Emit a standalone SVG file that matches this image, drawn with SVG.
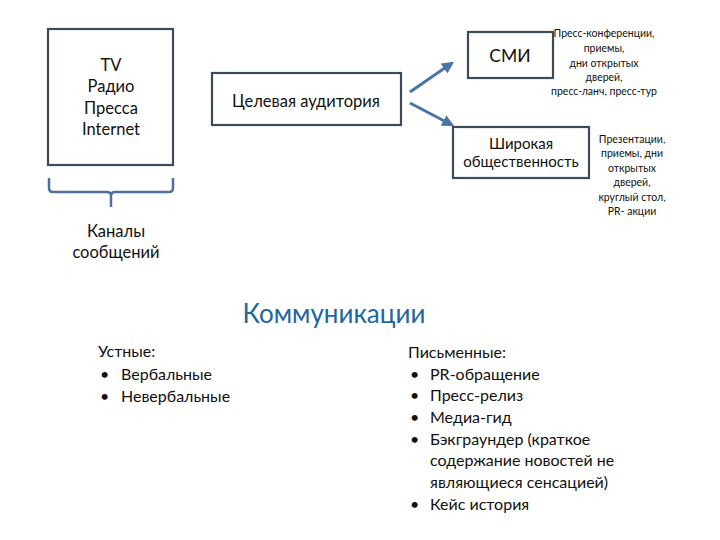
<svg xmlns="http://www.w3.org/2000/svg" width="720" height="540" viewBox="0 0 720 540">
<defs>
<style>
text{font-family:Lato,"Liberation Sans",sans-serif;fill:#111}
.box{fill:#fff;stroke:#3c4a5c;stroke-width:2.2}
.c{text-anchor:middle}
.m{font-size:16.5px}
.s{font-size:10.5px}
.l{font-size:16px}
.conn{stroke:#4a74a8;stroke-width:3;fill:none}
</style>
<marker id="ah" viewBox="0 0 10 10" refX="8" refY="5" markerWidth="4" markerHeight="4" orient="auto" markerUnits="strokeWidth">
<path d="M0,0 L10,5 L0,10 z" fill="#4a74a8"/>
</marker>
</defs>
<rect width="720" height="540" fill="#fff"/>
<g id="channels">
<rect class="box" x="48" y="29" width="125" height="136"/>
<text class="c m" x="111" y="71">TV</text>
<text class="c m" x="111" y="92">Радио</text>
<text class="c m" x="111" y="114">Пресса</text>
<text class="c m" x="111" y="135">Internet</text>
</g>
<g id="brace">
<path d="M49,178 L49,188 Q49,192 53,192 L107,192 Q111,192 111,196 L111,207 M111,196 Q111,192 115,192 L169,192 Q173,192 173,188 L173,178" fill="none" stroke="#4f6f9f" stroke-width="2.5"/>
<text class="c m" x="116" y="237">Каналы</text>
<text class="c m" x="116" y="258">сообщений</text>
</g>
<g id="audience">
<rect class="box" x="212" y="73" width="189" height="52"/>
<text class="c m" x="306" y="107">Целевая аудитория</text>
</g>
<g id="smi">
<rect class="box" x="468" y="32" width="85" height="46"/>
<text class="c" x="510" y="62" font-size="17.5">СМИ</text>
</g>
<g id="smi-note">
<text class="c s" x="604" y="37">Пресс-конференции,</text>
<text class="c s" x="604" y="52">приемы,</text>
<text class="c s" x="604" y="67">дни открытых</text>
<text class="c s" x="604" y="81">дверей,</text>
<text class="c s" x="604" y="95">пресс-ланч, пресс-тур</text>
</g>
<g id="public">
<rect class="box" x="453" y="127" width="136" height="51"/>
<text class="c" x="521" y="149" font-size="15">Широкая</text>
<text class="c" x="521" y="167" font-size="15">общественность</text>
</g>
<g id="public-note">
<text class="c s" x="632" y="143">Презентации,</text>
<text class="c s" x="632" y="157">приемы, дни</text>
<text class="c s" x="632" y="172">открытых</text>
<text class="c s" x="632" y="186">дверей,</text>
<text class="c s" x="632" y="201">круглый стол,</text>
<text class="c s" x="632" y="215">PR- акции</text>
</g>
<g id="connectors">
<line class="conn" x1="410" y1="92" x2="452" y2="63" marker-end="url(#ah)"/>
<line class="conn" x1="410" y1="103" x2="452" y2="125" marker-end="url(#ah)"/>
</g>
<g id="communications">
<text class="c" x="334" y="323" font-size="26" style="fill:#2366a0">Коммуникации</text>
</g>
<g id="oral">
<text class="l" x="98" y="357">Устные:</text>
<text class="l" x="100" y="380">•</text>
<text class="l" x="121" y="380">Вербальные</text>
<text class="l" x="100" y="402">•</text>
<text class="l" x="121" y="402">Невербальные</text>
</g>
<g id="written">
<text class="l" x="408" y="358">Письменные:</text>
<text class="l" x="410" y="380">•</text>
<text class="l" x="430" y="380">PR-обращение</text>
<text class="l" x="410" y="401">•</text>
<text class="l" x="430" y="401">Пресс-релиз</text>
<text class="l" x="410" y="423">•</text>
<text class="l" x="430" y="423">Медиа-гид</text>
<text class="l" x="410" y="445">•</text>
<text class="l" x="430" y="445">Бэкграундер (краткое</text>
<text class="l" x="430" y="466">содержание новостей не</text>
<text class="l" x="430" y="488">являющиеся сенсацией)</text>
<text class="l" x="410" y="510">•</text>
<text class="l" x="430" y="510">Кейс история</text>
</g>
</svg>
